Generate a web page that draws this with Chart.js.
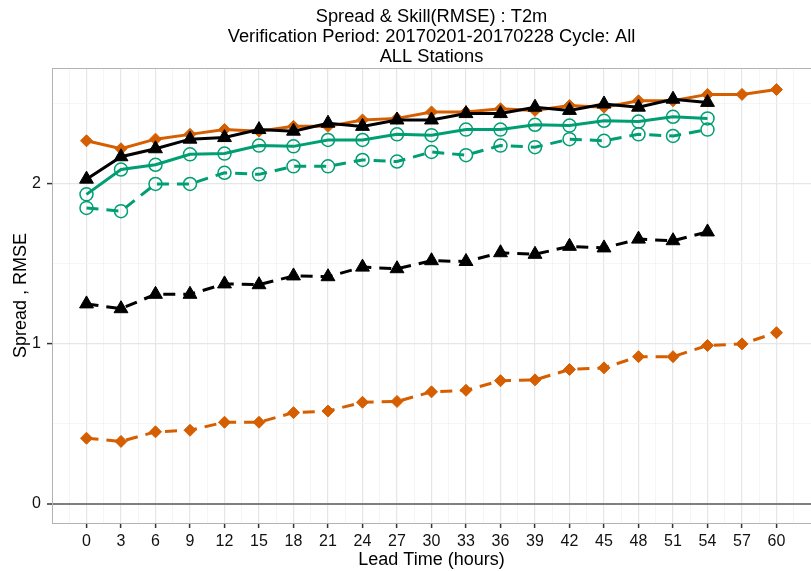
<!DOCTYPE html>
<html>
<head>
<meta charset="utf-8">
<title>Spread & Skill(RMSE) : T2m</title>
<script src="https://cdn.jsdelivr.net/npm/chart.js@4"></script>
<style>
  html, body { margin: 0; padding: 0; background: #fff; overflow: hidden; }
  #wrap { position: absolute; left: 0; top: 0; }
</style>
</head>
<body>
<div id="wrap"><canvas id="skillChart" width="820" height="571"></canvas></div>
<script>
// lead times (hours)
const hours = [0, 3, 6, 9, 12, 15, 18, 21, 24, 27, 30, 33, 36, 39, 42, 45, 48, 51, 54, 57, 60];
const yTickValues = [0, 0.5, 1, 1.5, 2, 2.5];

// solid lines = RMSE, dashed lines = spread
const rmseOrange = [2.27, 2.22, 2.28, 2.31, 2.34, 2.33, 2.36, 2.36, 2.40, 2.41, 2.45, 2.45, 2.47, 2.46, 2.49, 2.48, 2.52, 2.52, 2.56, 2.56, 2.59];
const spreadOrange = [0.41, 0.39, 0.45, 0.46, 0.51, 0.51, 0.57, 0.58, 0.635, 0.64, 0.70, 0.71, 0.77, 0.775, 0.84, 0.85, 0.92, 0.92, 0.99, 1.00, 1.07];
const rmseBlack = [2.03, 2.17, 2.22, 2.28, 2.29, 2.34, 2.33, 2.38, 2.36, 2.40, 2.40, 2.44, 2.44, 2.48, 2.46, 2.50, 2.48, 2.53, 2.51];
const spreadBlack = [1.25, 1.22, 1.31, 1.31, 1.375, 1.37, 1.425, 1.42, 1.48, 1.47, 1.52, 1.515, 1.57, 1.56, 1.61, 1.60, 1.655, 1.645, 1.70];
const rmseGreen = [1.935, 2.09, 2.12, 2.185, 2.19, 2.24, 2.235, 2.275, 2.275, 2.31, 2.305, 2.34, 2.34, 2.37, 2.365, 2.395, 2.39, 2.42, 2.41];
const spreadGreen = [1.85, 1.83, 2.00, 2.00, 2.07, 2.06, 2.11, 2.11, 2.15, 2.14, 2.20, 2.18, 2.24, 2.23, 2.28, 2.27, 2.31, 2.30, 2.34];

const ORANGE = '#D55E00';
const GREEN = '#009E73';
const BLACK = '#000000';
const FONT = "'Liberation Sans', Arial, Helvetica, sans-serif";

function pts(values) {
  return values.map((v, i) => ({ x: hours[i], y: v }));
}

function series(label, values, color, style, dashed, radius) {
  const hollow = style === 'circle';
  return {
    label: label,
    data: pts(values),
    borderColor: color,
    backgroundColor: color,
    borderWidth: 3,
    borderDash: dashed ? [12, 8] : [],
    pointStyle: style,
    pointRadius: radius,
    pointHoverRadius: radius,
    pointBackgroundColor: hollow ? 'rgba(0,0,0,0)' : color,
    pointBorderColor: color,
    pointBorderWidth: hollow ? 1.5 : 1,
    tension: 0,
    fill: false
  };
}

// grey border round the plot panel
const panelBorder = {
  id: 'panelBorder',
  beforeDatasetsDraw(chart) {
    const a = chart.chartArea;
    const ctx = chart.ctx;
    ctx.save();
    ctx.strokeStyle = '#b3b3b3';
    ctx.lineWidth = 1;
    ctx.strokeRect(a.left + 0.5, a.top + 0.5, a.right - a.left, a.bottom - a.top);
    ctx.restore();
  }
};

const ctx = document.getElementById('skillChart').getContext('2d');
const skillChart = new Chart(ctx, {
  type: 'line',
  data: {
    datasets: [
      series('Spread (black)', spreadBlack, BLACK, 'triangle', true, 8),
      series('Spread (orange)', spreadOrange, ORANGE, 'rectRot', true, 6),
      series('Spread (green)', spreadGreen, GREEN, 'circle', true, 6.5),
      series('RMSE (green)', rmseGreen, GREEN, 'circle', false, 6.5),
      series('RMSE (black)', rmseBlack, BLACK, 'triangle', false, 8),
      series('RMSE (orange)', rmseOrange, ORANGE, 'rectRot', false, 6)
    ]
  },
  options: {
    responsive: false,
    animation: false,
    devicePixelRatio: 1,
    layout: { padding: { top: 0, left: 0, right: 5, bottom: 0 } },
    plugins: {
      legend: { display: false },
      tooltip: { enabled: false },
      title: {
        display: true,
        fullSize: false,
        text: ['Spread & Skill(RMSE) : T2m',
               'Verification Period: 20170201-20170228 Cycle: All',
               'ALL Stations'],
        color: '#000',
        font: { family: FONT, size: 18.3, weight: 'normal', lineHeight: 20 / 18.3 },
        padding: { top: 7, bottom: 1 }
      }
    },
    scales: {
      x: {
        type: 'linear',
        min: -3,
        max: 63,
        afterBuildTicks: (scale) => {
          const t = [];
          for (let v = -1.5; v <= 61.5; v += 1.5) t.push({ value: v });
          scale.ticks = t;
        },
        afterFit: (scale) => { scale.height = 48; },
        ticks: {
          autoSkip: false,
          maxRotation: 0,
          padding: 4,
          color: '#111',
          font: { family: FONT, size: 16 },
          callback: (v) => (v >= 0 && v <= 60 && v % 3 === 0) ? String(v) : ''
        },
        grid: {
          color: (c) => (c.tick && c.tick.value % 3 === 0) ? '#e6e6e6' : '#f3f3f3',
          lineWidth: (c) => (c.tick && c.tick.value % 3 === 0) ? 1.2 : 0.8,
          tickLength: 5,
          tickColor: (c) => (c.tick && c.tick.value % 3 === 0 && c.tick.value >= 0) ? '#333' : 'rgba(0,0,0,0)',
          tickWidth: 1.5
        },
        border: { display: true, color: '#b3b3b3', width: 1 },
        title: {
          display: true,
          text: 'Lead Time (hours)',
          color: '#000',
          font: { family: FONT, size: 18 },
          padding: { top: 0, bottom: 0 }
        }
      },
      y: {
        type: 'linear',
        min: -0.12,
        max: 2.725,
        afterBuildTicks: (scale) => {
          scale.ticks = yTickValues.map(v => ({ value: v }));
        },
        afterFit: (scale) => { scale.width = 52; },
        ticks: {
          padding: 6,
          color: '#111',
          font: { family: FONT, size: 16 },
          callback: (v) => Number.isInteger(v) ? String(v) : ''
        },
        grid: {
          color: (c) => {
            if (!c.tick) return '#f3f3f3';
            if (c.tick.value === 0) return '#7f7f7f';
            return Number.isInteger(c.tick.value) ? '#e6e6e6' : '#f3f3f3';
          },
          lineWidth: (c) => {
            if (!c.tick) return 0.8;
            if (c.tick.value === 0) return 2;
            return Number.isInteger(c.tick.value) ? 1.2 : 0.8;
          },
          tickLength: 5,
          tickColor: (c) => (c.tick && Number.isInteger(c.tick.value)) ? '#333' : 'rgba(0,0,0,0)',
          tickWidth: 1.5
        },
        border: { display: true, color: '#b3b3b3', width: 1 },
        title: {
          display: true,
          text: 'Spread , RMSE',
          color: '#000',
          font: { family: FONT, size: 18 },
          padding: { top: 10, bottom: 0 }
        }
      }
    }
  },
  plugins: [panelBorder]
});
</script>
</body>
</html>
